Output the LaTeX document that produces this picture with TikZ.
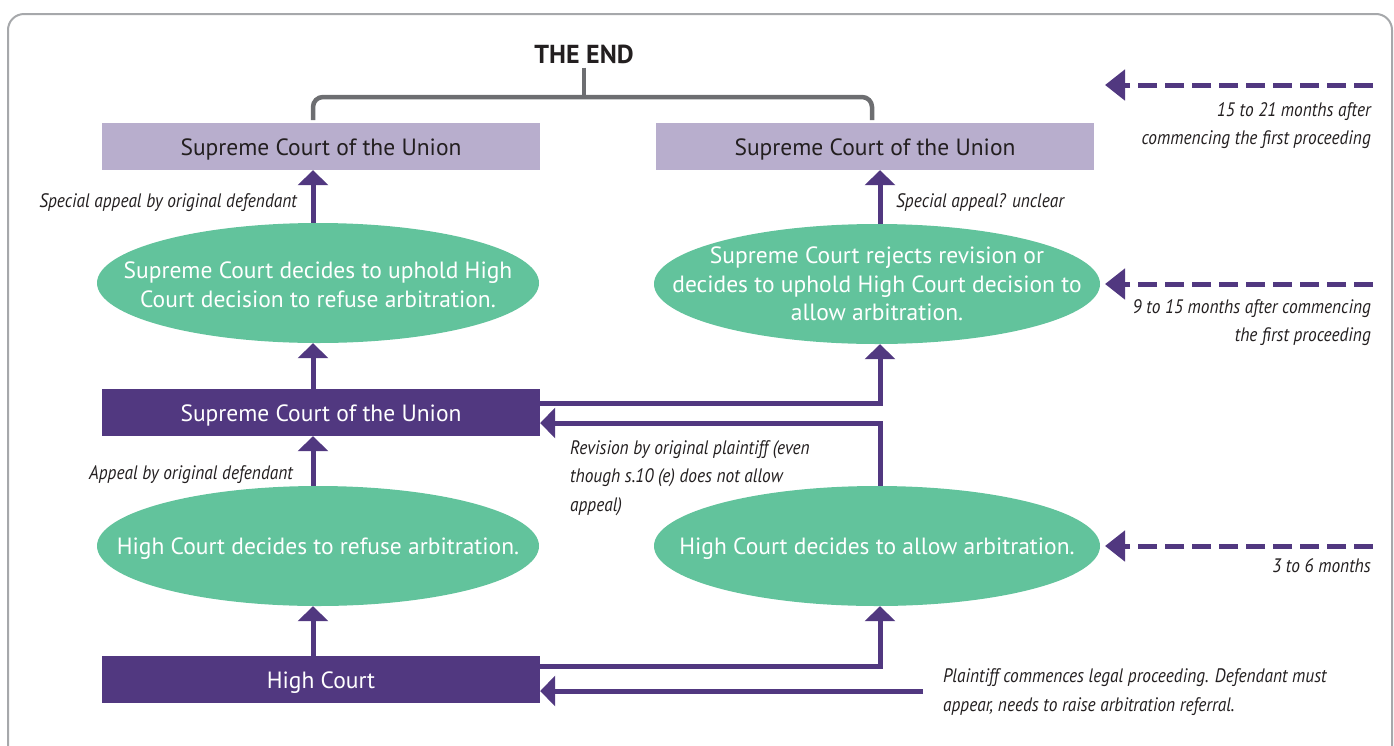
\documentclass[tikz,border=0pt]{standalone}
\usepackage{fontspec}
\setmainfont{PT Sans}
\newfontfamily\itf[FakeStretch=0.89]{PT Sans}
\usetikzlibrary{arrows.meta,shapes.geometric}
\definecolor{purp}{RGB}{81,56,128}
\definecolor{grn}{RGB}{98,195,156}
\definecolor{lav}{RGB}{184,174,205}
\definecolor{dark}{RGB}{35,31,32}
\definecolor{brk}{RGB}{109,110,113}
\definecolor{frame}{RGB}{166,168,171}
\tikzset{
  box/.style={rectangle, minimum width=438pt, minimum height=47pt, inner sep=0pt, text height=20pt, text depth=1.6pt, font=\fontsize{23.5}{28}\selectfont},
  lbox/.style={box, fill=lav, text=dark},
  pbox/.style={box, fill=purp, text=white},
  ell/.style={ellipse, fill=grn, minimum width=442pt, minimum height=120pt, inner sep=0pt},
  etext/.style={text=white, align=center, inner sep=0pt, font=\fontsize{23.5}{28.5}\selectfont},
  arr/.style={draw=purp, line width=5pt, -{Triangle[length=15pt,width=30pt]}},
  darr/.style={draw=purp, line width=5pt, dash pattern=on 19pt off 8pt, -{Triangle[length=20pt,width=30pt]}},
  lab/.style={text=dark, inner sep=0pt, font=\itf\itshape\fontsize{19.5}{28.5}\selectfont},
  bracket/.style={draw=brk, line width=4.5pt, rounded corners=10pt}
}
\begin{document}
\begin{tikzpicture}[x=1pt,y=-1pt]
\useasboundingbox (0,0) rectangle (1394,745);
\draw[frame, line width=2pt, rounded corners=16pt] (8,14) rectangle (1392,780);

\coordinate (xl) at (313,0);
\coordinate (xr) at (880,0);

\node[font=\bfseries\fontsize{26}{30}\selectfont, text=dark, inner sep=0pt] (theend) at (584,54) {THE END};

\node[lbox] (sc1) at (321,146.5) {Supreme Court of the Union};
\node[lbox] (sc2) at (875,146.5) {Supreme Court of the Union};

\node[ell] (e1) at (318,283) {};
\node[etext, yshift=-2pt] (e1t) at (e1) {Supreme Court decides to uphold High\\Court decision to refuse arbitration.};
\node[ell, minimum width=446pt] (e3) at (877,284) {};
\node[etext] (e3t) at (e3) {Supreme Court rejects revision or\\decides to uphold High Court decision to\\allow arbitration.};

\node[pbox] (scp) at (321,412.5) {Supreme Court of the Union};

\node[ell] (e2) at (318,546) {};
\node[etext, yshift=-3pt] (e2t) at (e2) {High Court decides to refuse arbitration.};
\node[ell, minimum width=446pt] (e4) at (877,546) {};
\node[etext, yshift=-3pt] (e4t) at (e4) {High Court decides to allow arbitration.};

\node[pbox] (hc) at (321,679.5) {High Court};

% bracket
\coordinate (bl) at (xl |- 0,120);
\coordinate (bm) at (584,97);
\coordinate (br) at (872,120);
\draw[bracket] (bl) |- (br |- bm) -- (br);
\draw[bracket] (theend.south) ++(0,-4pt) -- (bm);

% vertical arrows
\draw[arr] (xl |- e1.north) -- (xl |- sc1.south);
\draw[arr] (xl |- scp.north) -- (xl |- e1.south);
\draw[arr] (xl |- e2.north) -- (xl |- scp.south);
\draw[arr] (xl |- hc.north) -- (xl |- e2.south);
\draw[arr] (xr |- e3.north) -- (xr |- sc2.south);

% side connectors
\draw[arr] ([yshift=9.5pt]scp.east) -| (xr |- e3.south);
\draw[arr] (xr |- e4.north) |- ([yshift=-10.5pt]scp.east);
\draw[arr] ([yshift=13.5pt]hc.east) -| (xr |- e4.south);
\coordinate (plstart) at (923,691);
\draw[arr] (plstart) -- (plstart -| hc.east);

% dashed time arrows
\coordinate (d1s) at (1373,85);   \coordinate (d1e) at (1105,85);
\coordinate (d2s) at (1373,284);  \coordinate (d2e) at (1105,284);
\coordinate (d3s) at (1373,546);  \coordinate (d3e) at (1105,546);
\draw[darr] (d1s) -- (d1e);
\draw[darr] (d2s) -- (d2e);
\draw[darr] (d3s) -- (d3e);

% labels
\node[lab, anchor=east] (sa1) at (297,203) {Special appeal by original defendant};
\node[lab, anchor=west] (sa2) at (896,203) {Special appeal? unclear};
\node[lab, anchor=east] (ap) at (293,475) {Appeal by original defendant};
\node[lab, anchor=west, align=left] (rev) at (570,478) {Revision by original plaintiff (even\\though s.10 (e) does not allow\\appeal)};
\node[lab, anchor=west, align=left] (pl) at (943,692) {Plaintiff commences legal proceeding. Defendant must\\appear, needs to raise arbitration referral.};
\node[lab, anchor=east, align=right] (t1) at (1371,125.5) {15 to 21 months after\\commencing the first proceeding};
\node[lab, anchor=east, align=right] (t2) at (1371,322.5) {9 to 15 months after commencing\\the first proceeding};
\node[lab, anchor=east] (t3) at (1371,566) {3 to 6 months};
\end{tikzpicture}
\end{document}
